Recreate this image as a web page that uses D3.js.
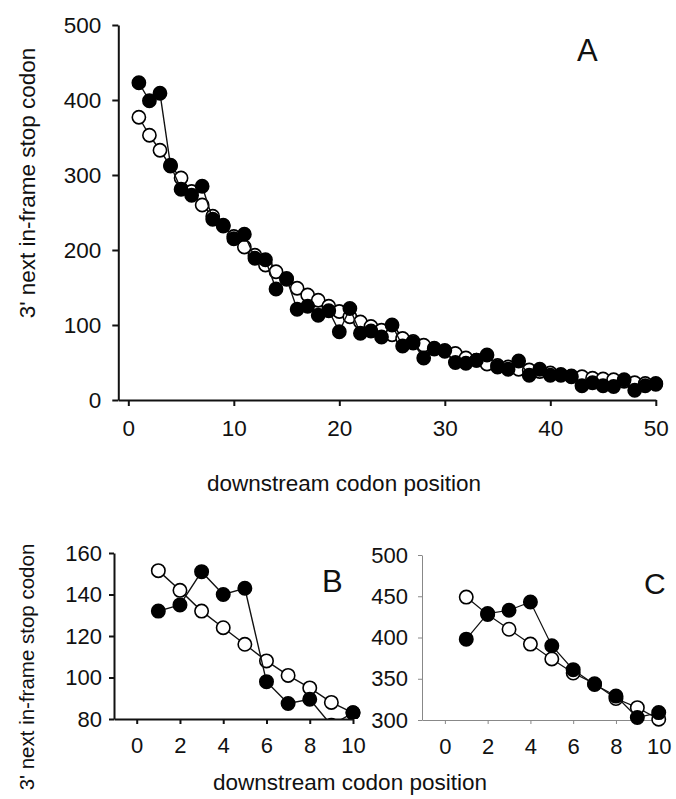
<!DOCTYPE html>
<html>
<head>
<meta charset="utf-8">
<script src="https://cdn.jsdelivr.net/npm/d3@7"></script>
<style>
  html, body { margin: 0; padding: 0; background: #fff; }
  svg { display: block; }
  text { font-family: "Liberation Sans", Arial, Helvetica, sans-serif; fill: #111; }
</style>
</head>
<body>
<svg id="chart" width="676" height="799"></svg>
<script>
// ---------- DATA ----------
const positionsA = [1,2,3,4,5,6,7,8,9,10,11,12,13,14,15,16,17,18,19,20,21,22,23,24,25,
                    26,27,28,29,30,31,32,33,34,35,36,37,38,39,40,41,42,43,44,45,46,47,48,49,50];
const filledA = [423,399,409,313,281,273,285,241,232,215,221,189,187,148,162,121,125,113,119,91,
                 122,89,92,84,100,72,76,56,68,66,50,49,53,60,44,41,52,33,41,33,
                 33,31,19,23,19,18,27,13,19,22];
const openA   = [377,353,333,312,296,278,260,245,233,218,204,193,180,171,161,149,140,133,125,118,
                 111,104,98,93,87,82,78,73,69,65,62,56,53,48,46,44,41,40,38,36,
                 34,32,31,29,28,27,25,23,22,21];

const positionsBC = [1,2,3,4,5,6,7,8,9,10];
const filledB = [132,135,151,140,143,98,87.5,89.5,77,83];
const openB   = [151.5,142,132,124,116,108,101,95,88,83];
const filledC = [398,429,433,443,390,361,343,329,303,309];
const openC   = [449,428,410,392,374,357,344,326,315,301];

const ticksA_x = [0,10,20,30,40,50];
const ticksA_y = [0,100,200,300,400,500];
const ticksBC_x = [0,2,4,6,8,10];
const ticksB_y = [80,100,120,140,160];
const ticksC_y = [300,350,400,450,500];

const yLabel = "3' next in-frame stop codon";
const xLabel = "downstream codon position";

// ---------- DRAW ----------
const svg = d3.select("#chart");

function panel(cfg) {
  const g = svg.append("g");
  const x = d3.scaleLinear().domain(cfg.xDomain).range(cfg.xRange);
  const y = d3.scaleLinear().domain(cfg.yDomain).range(cfg.yRange);

  const xAxis = d3.axisBottom(x).tickValues(cfg.xTicks).tickSize(cfg.tickLen)
      .tickPadding(cfg.xPad).tickSizeOuter(0);
  const yAxis = d3.axisLeft(y).tickValues(cfg.yTicks).tickSize(cfg.yTickLen)
      .tickPadding(cfg.yPad).tickSizeOuter(0);

  const gx = g.append("g").attr("transform", `translate(0,${cfg.yRange[0]})`).call(xAxis);
  const gy = g.append("g").attr("transform", `translate(${cfg.xRange[0]},0)`).call(yAxis);
  [gx, gy].forEach(a => {
    a.select(".domain").attr("stroke", cfg.axisColor).attr("stroke-width", cfg.axisWidth);
    a.selectAll(".tick line").attr("stroke", cfg.axisColor).attr("stroke-width", cfg.axisWidth);
    a.selectAll(".tick text").attr("font-size", cfg.tickFont)
      .attr("font-family", '"Liberation Sans", Arial, sans-serif').attr("fill", "#111");
  });

  const clipId = "clip" + cfg.name;
  svg.append("clipPath").attr("id", clipId).append("rect")
    .attr("x", cfg.xRange[0]).attr("y", cfg.yRange[1] - 20)
    .attr("width", cfg.xRange[1] - cfg.xRange[0] + 30)
    .attr("height", cfg.yRange[0] - cfg.yRange[1] + 20 + cfg.clipBelow);

  const plot = g.append("g").attr("clip-path", `url(#${clipId})`);
  const line = d3.line().x((d, i) => x(cfg.xs[i])).y(d => y(d));

  const series = [
    { vals: cfg.open, fill: "#fff" },
    { vals: cfg.filled, fill: "#000" }
  ];
  series.forEach(s => {
    plot.append("path").datum(s.vals).attr("d", line)
      .attr("fill", "none").attr("stroke", "#111").attr("stroke-width", cfg.lineW);
    plot.selectAll(null).data(s.vals).enter().append("circle")
      .attr("cx", (d, i) => x(cfg.xs[i])).attr("cy", d => y(d))
      .attr("r", cfg.r).attr("fill", s.fill).attr("stroke", "#000").attr("stroke-width", 1.6);
  });

  g.append("text").attr("x", cfg.letterX).attr("y", cfg.letterY)
    .attr("font-size", cfg.letterFont).text(cfg.name);
}

panel({
  name: "A",
  xs: positionsA, filled: filledA, open: openA,
  xDomain: [-0.95, 50], xRange: [118.3, 655.8],
  yDomain: [0, 500], yRange: [400, 25],
  xTicks: ticksA_x, yTicks: ticksA_y,
  tickLen: 6, yTickLen: 6, xPad: 14, yPad: 11,
  axisColor: "#111", axisWidth: 2, tickFont: 22.5,
  lineW: 1.4, r: 6.6, clipBelow: 20,
  letterX: 577, letterY: 61, letterFont: 31
});

panel({
  name: "B",
  xs: positionsBC, filled: filledB, open: openB,
  xDomain: [-1.05, 10], xRange: [114, 353],
  yDomain: [80, 160], yRange: [719, 553],
  xTicks: ticksBC_x, yTicks: ticksB_y,
  tickLen: 5, yTickLen: 5, xPad: 13, yPad: 7,
  axisColor: "#111", axisWidth: 2, tickFont: 22,
  lineW: 1.4, r: 6.7, clipBelow: 0,
  letterX: 322, letterY: 592, letterFont: 31
});

panel({
  name: "C",
  xs: positionsBC, filled: filledC, open: openC,
  xDomain: [-1.07, 10.2], xRange: [422, 663],
  yDomain: [300, 500], yRange: [720, 555],
  xTicks: ticksBC_x, yTicks: ticksC_y,
  tickLen: 4, yTickLen: 4, xPad: 14, yPad: 10,
  axisColor: "#888", axisWidth: 1, tickFont: 22,
  lineW: 1.2, r: 6.7, clipBelow: 20,
  letterX: 644, letterY: 594, letterFont: 30
});

// axis titles
svg.append("text").attr("x", 344).attr("y", 491).attr("text-anchor", "middle")
  .attr("font-size", 22.5).text(xLabel);
svg.append("text").attr("transform", "translate(35,183) rotate(-90)").attr("text-anchor", "middle")
  .attr("font-size", 22.5).text(yLabel);
svg.append("text").attr("x", 350).attr("y", 790).attr("text-anchor", "middle")
  .attr("font-size", 22.5).text(xLabel);
svg.append("text").attr("transform", "translate(34,667) rotate(-90)").attr("text-anchor", "middle")
  .attr("font-size", 20.5).text(yLabel);
</script>
</body>
</html>
